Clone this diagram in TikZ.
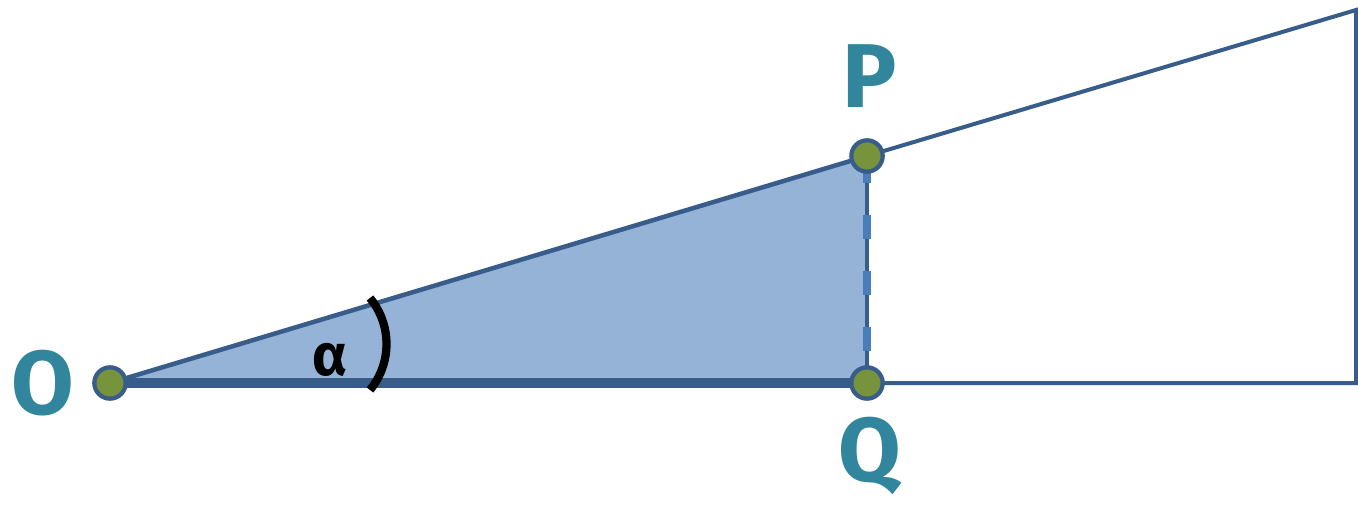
\documentclass[tikz,border=0pt]{standalone}
\usepackage{fontspec}
\setmainfont{Fira Sans}
\definecolor{edge}{HTML}{385D8A}
\definecolor{triblue}{HTML}{95B3D7}
\definecolor{dashblue}{HTML}{4A7EBB}
\definecolor{dotgreen}{HTML}{77933C}
\definecolor{teal}{HTML}{31859C}
\tikzset{
    pt/.style={circle, fill=dotgreen, draw=edge, line width=3.2pt, inner sep=0pt, minimum size=23.5pt},
    lbl/.style={text=teal, font=\fontsize{68}{68}\selectfont\bfseries}
}
\begin{document}
\begin{tikzpicture}[x=0.75pt,y=-0.75pt]
\useasboundingbox (0,0) rectangle (1358,505);
% points
    \foreach \v/\x/\y in {O/110/383,P/867/156,Q/867/383,R/1356/10,S/1356/383}{
        \coordinate (\v) at (\x,\y);
    }
% triangle
    \fill[triblue] (O) -- (P) -- (Q) -- cycle;
    \draw[edge, line width=3pt] (P) -- (R) -- (S) -- (Q);
    \draw[edge, line width=3.4pt] (O) -- (P);
    \draw[edge, line width=6.8pt] (O) -- (Q);
    \draw[edge, line width=3pt] (Q) -- (P);
    \draw[dashblue, line width=5.6pt, dash pattern=on 18pt off 24pt, dash phase=18pt] (Q) -- (P);
% angle
    \draw[line width=6.2pt] (370,298) .. controls (392,325) and (392,363) .. (370,390);
    \node[font=\fontsize{44}{44}\selectfont\bfseries] (alpha) at (330,360) {α};
% dots and labels
    \foreach \v in {O,P,Q}{
        \node[pt] (dot\v) at (\v) {};
    }
    \node[lbl] (labO) at (43,383) {O};
    \node[lbl] (labP) at (870,76) {P};
    \node[lbl] (labQ) at (870,456) {Q};
\end{tikzpicture}
\end{document}
